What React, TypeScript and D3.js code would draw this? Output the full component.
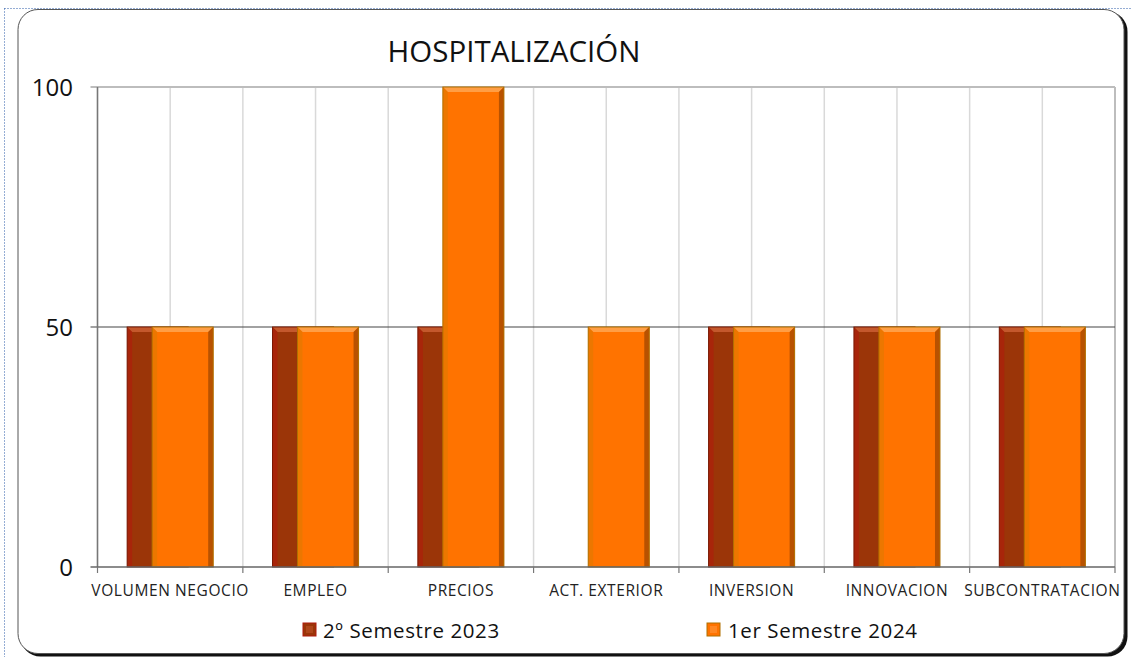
import React from "react";
import * as d3 from "d3";

const categories = ["VOLUMEN NEGOCIO", "EMPLEO", "PRECIOS", "ACT. EXTERIOR", "INVERSION", "INNOVACION", "SUBCONTRATACION"];
const series2023 = [50, 50, 50, 0, 50, 50, 50];
const series2024 = [50, 50, 100, 50, 50, 50, 50];
const seriesNames = ["2º Semestre 2023", "1er Semestre 2024"];
const yTicks = [0, 50, 100];

const W = 1132, H = 657;
const PX0 = 97.5, PX1 = 1115, PY0 = 87, PY1 = 567;

const dark = { main: "#9B3508", top: "#C4582C", right: "#6E2204", left: "#B01A0C", edge: "#7a1a05" };
const orange = { main: "#FF7300", top: "#FF9E45", right: "#B85200", left: "#E07A00", edge: "#B07000" };

function BevelBar({ x, y, w, h, c }: { x: number; y: number; w: number; h: number; c: typeof dark }) {
  if (h <= 0) return null;
  const b = Math.min(5, h / 2);
  return (
    <g>
      <rect x={x} y={y} width={w} height={h} fill={c.main} />
      <polygon points={`${x},${y} ${x + w},${y} ${x + w - b},${y + b} ${x + b},${y + b}`} fill={c.top} />
      <polygon points={`${x + w},${y} ${x + w},${y + h} ${x + w - b},${y + h} ${x + w - b},${y + b}`} fill={c.right} />
      <polygon points={`${x},${y} ${x + b},${y + b} ${x + b},${y + h} ${x},${y + h}`} fill={c.left} opacity={0.6} />
      <rect x={x} y={y} width={w} height={h} fill="none" stroke={c.edge} strokeWidth={1} />
    </g>
  );
}

export default function App() {
  const x = d3.scaleBand<string>().domain(categories).range([PX0, PX1]).padding(0);
  const y = d3.scaleLinear().domain([0, 100]).range([PY1, PY0]);
  const bw = x.bandwidth();
  const barW = bw * 0.42;
  const off23 = -0.296 * bw;
  const off24 = -0.124 * bw;
  const halfLines = d3.range(0, categories.length * 2 + 1).map((i) => PX0 + (i * bw) / 2);
  const fontC = "'Open Sans', 'Noto Sans', sans-serif";

  return (
    <svg width={W} height={H} style={{ position: "absolute", left: 0, top: 0 }} xmlns="http://www.w3.org/2000/svg">
      <rect x={0} y={0} width={W} height={H} fill="#fff" />
      {/* dotted outer frame */}
      <line x1={4.5} y1={8.5} x2={W} y2={8.5} stroke="#2a5aa8" strokeDasharray="1,2" />
      <line x1={4.5} y1={8.5} x2={4.5} y2={H} stroke="#2a5aa8" strokeDasharray="1,2" />
      {/* chart border with shadow */}
      <rect x={20.5} y={11.5} width={1107} height={645} rx={20} fill="#111" />
      <rect x={18} y={9.5} width={1106} height={644} rx={20} fill="#fff" stroke="#555" strokeWidth={1} />

      {/* title */}
      <text x={514} y={62} textAnchor="middle" fontFamily={fontC} fontSize={29.5} fill="#111">HOSPITALIZACIÓN</text>

      {/* vertical gridlines */}
      {halfLines.map((lx, i) => (
        <line key={i} x1={lx} x2={lx} y1={PY0} y2={PY1} stroke="#d9d9d9" strokeWidth={1.5} />
      ))}
      {/* top & right frame */}
      <line x1={PX0 - 7} x2={PX1} y1={PY0} y2={PY0} stroke="#bdbdbd" strokeWidth={2} />
      <line x1={PX1} x2={PX1} y1={PY0} y2={PY1} stroke="#bdbdbd" strokeWidth={2} />
      {/* 50 gridline */}
      <line x1={PX0 - 7} x2={PX1} y1={y(50)} y2={y(50)} stroke="#444" strokeWidth={1.2} />

      {/* bars */}
      {categories.map((cat, i) => {
        const cx = (x(cat) ?? 0) + bw / 2;
        return (
          <g key={cat}>
            <BevelBar x={cx + off23} y={y(series2023[i])} w={barW} h={PY1 - y(series2023[i])} c={dark} />
            <BevelBar x={cx + off24} y={y(series2024[i])} w={barW} h={PY1 - y(series2024[i])} c={orange} />
          </g>
        );
      })}

      {/* axes */}
      <line x1={PX0} x2={PX0} y1={PY0} y2={PY1} stroke="#777" strokeWidth={1.5} />
      <line x1={PX0 - 7} x2={PX1} y1={PY1} y2={PY1} stroke="#666" strokeWidth={1.5} />
      {d3.range(0, categories.length + 1).map((i) => (
        <line key={i} x1={PX0 + i * bw} x2={PX0 + i * bw} y1={PY1} y2={PY1 + 6} stroke="#777" strokeWidth={1.2} />
      ))}
      {yTicks.map((t) => (
        <text key={t} x={73} y={y(t) + 8.5} textAnchor="end" fontFamily={fontC} fontSize={24} fill="#111">{t}</text>
      ))}
      {categories.map((cat) => (
        <text key={cat} x={(x(cat) ?? 0) + bw / 2} y={596} textAnchor="middle" fontFamily={fontC} fontSize={15.5} letterSpacing={0.6} fill="#222">{cat}</text>
      ))}

      {/* legend */}
      <g>
        <rect x={303} y={623} width={13} height={13} fill={dark.main} stroke={dark.left} />
        <rect x={306} y={626} width={7} height={7} fill={dark.top} opacity={0.5} />
        <text x={323} y={638} fontFamily={fontC} fontSize={20.5} letterSpacing={0.6} fill="#111">{seriesNames[0]}</text>
        <rect x={707} y={623} width={13} height={13} fill={orange.main} stroke={orange.edge} />
        <rect x={710} y={626} width={7} height={7} fill={orange.top} opacity={0.5} />
        <text x={728} y={638} fontFamily={fontC} fontSize={20.5} letterSpacing={0.6} fill="#111">{seriesNames[1]}</text>
      </g>
    </svg>
  );
}
